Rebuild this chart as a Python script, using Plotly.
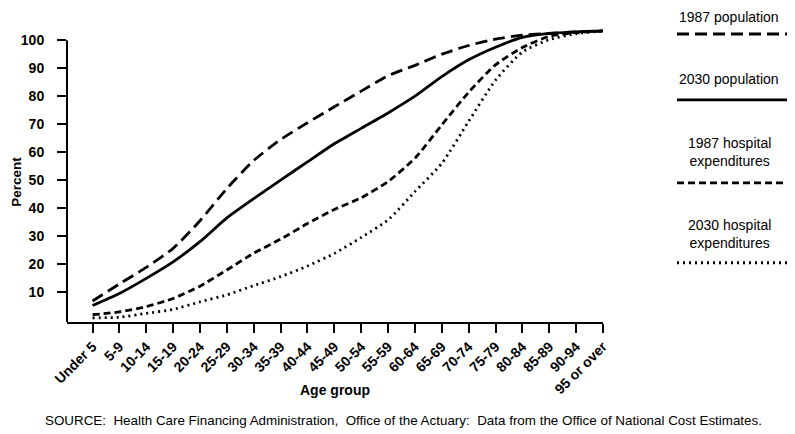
import plotly.graph_objects as go

# age groups on the x axis
age_groups = ["Under 5", "5-9", "10-14", "15-19", "20-24", "25-29", "30-34", "35-39",
              "40-44", "45-49", "50-54", "55-59", "60-64", "65-69", "70-74", "75-79",
              "80-84", "85-89", "90-94", "95 or over"]

# cumulative percent
pop_1987 = [6.8, 12.9, 18.8, 25.6, 35.5, 47.0, 57.0, 64.5, 70.5, 76.2,
            81.8, 87.3, 91.0, 95.0, 98.1, 100.4, 101.8, 102.4, 103.0, 103.3]
pop_2030 = [5.2, 9.5, 14.9, 20.8, 28.0, 36.5, 43.4, 50.0, 56.5, 63.0,
            68.5, 74.0, 80.0, 87.0, 93.0, 97.5, 101.0, 102.4, 103.0, 103.3]
hosp_1987 = [1.9, 2.9, 4.8, 7.7, 12.1, 17.9, 23.9, 28.9, 34.5, 39.5,
             43.7, 49.5, 57.8, 69.7, 81.4, 91.2, 97.4, 101.4, 102.7, 103.3]
hosp_2030 = [0.8, 1.0, 2.4, 3.8, 6.5, 9.0, 12.3, 15.5, 19.3, 23.8,
             29.5, 35.8, 45.9, 56.0, 71.0, 85.7, 95.8, 100.2, 102.3, 103.3]

series = [
    ("1987 population", pop_1987, "12px,6px"),
    ("2030 population", pop_2030, "solid"),
    ("1987 hospital<br>expenditures", hosp_1987, "7px,4px"),
    ("2030 hospital<br>expenditures", hosp_2030, "2px,4px"),
]

FONT = "Liberation Sans, Arial, Helvetica, sans-serif"
W, H = 795, 434
OFF = 8   # page body margin shifts the figure by 8px
L, R, T, B = 67 - OFF, 603 - OFF, 29 - OFF, 322.3 - OFF   # plot area in pixels

def px(x):
    return (x - OFF - L) / (R - L)

def py(y):
    return (B - (y - OFF)) / (B - T)

x = list(range(len(age_groups)))
fig = go.Figure()
for name, vals, dash in series:
    fig.add_trace(go.Scatter(x=x, y=vals, mode="lines", name=name.replace("<br>", " "),
                             line=dict(color="black", width=2.8, dash=dash,
                                       shape="spline", smoothing=0.6),
                             showlegend=False))

shapes = [dict(type="line", xref="paper", yref="y", x0=0, x1=0, y0=-0.7, y1=100,
               line=dict(color="black", width=2))]
annotations = []

# hand-made legend on the right
legend_rows = [(16.5, 34), (79, 100), (152, 183), (234, 263)]
for (name, vals, dash), (ty, ly) in zip(series, legend_rows):
    annotations.append(dict(xref="paper", yref="paper", x=px(729), y=py(ty), text=name,
                            showarrow=False, xanchor="center", yanchor="middle",
                            font=dict(family=FONT, size=14, color="black")))
    shapes.append(dict(type="line", xref="paper", yref="paper", x0=px(677), x1=px(787),
                       y0=py(ly), y1=py(ly), line=dict(color="black", width=2.8, dash=dash)))

annotations += [
    dict(xref="paper", yref="paper", x=px(17), y=py(182), text="<b>Percent</b>",
         showarrow=False, textangle=-90, xanchor="center", yanchor="middle",
         font=dict(family=FONT, size=13.5, color="black")),
    dict(xref="paper", yref="paper", x=px(335), y=py(390), text="<b>Age group</b>",
         showarrow=False, xanchor="center", yanchor="middle",
         font=dict(family=FONT, size=14, color="black")),
    dict(xref="paper", yref="paper", x=px(403), y=py(421),
         text="SOURCE:\u00a0 Health Care Financing Administration,\u00a0 Office of the Actuary:\u00a0 "
              "Data from the Office of National Cost Estimates.",
         showarrow=False, xanchor="center", yanchor="middle",
         font=dict(family=FONT, size=13.4, color="black")),
]

fig.update_layout(
    width=W, height=H,
    margin=dict(l=L, r=W - R, t=T, b=H - B),
    paper_bgcolor="white", plot_bgcolor="white",
    shapes=shapes, annotations=annotations,
    xaxis=dict(range=[-0.95, 19], tickvals=x, ticktext=age_groups, tickangle=-45,
               showgrid=False, zeroline=False, showline=True, linecolor="black", linewidth=2,
               ticks="outside", ticklen=9, tickwidth=1.5, tickcolor="black", automargin=False,
               tickfont=dict(family=FONT, size=14, color="black", weight="bold")),
    yaxis=dict(range=[-0.7, 104], tickvals=list(range(10, 101, 10)),
               showgrid=False, zeroline=False, showline=False, automargin=False,
               ticks="outside", ticklen=9, tickwidth=1.5, tickcolor="black",
               ticklabelstandoff=10,
               tickfont=dict(family=FONT, size=14, color="black", weight="bold")),
)

fig.write_html("out.html")
